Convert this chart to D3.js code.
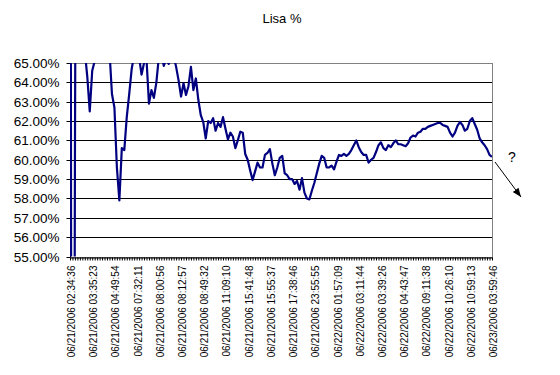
<!DOCTYPE html>
<html><head><meta charset="utf-8">
<script src="https://cdn.jsdelivr.net/npm/d3@7"></script>
<style>body{margin:0;background:#fff}svg{display:block}</style>
</head><body>
<svg id="c" width="560" height="375"></svg>
<script>
const title = "Lisa %";
const tickLabels = [
  "06/21/2006 02:34:36","06/21/2006 03:35:23","06/21/2006 04:49:54","06/21/2006 07:32:11",
  "06/21/2006 08:00:56","06/21/2006 08:12:57","06/21/2006 08:49:32","06/21/2006 11:09:10",
  "06/21/2006 15:41:48","06/21/2006 15:55:37","06/21/2006 17:38:46","06/21/2006 23:55:55",
  "06/22/2006 01:57:09","06/22/2006 03:11:44","06/22/2006 03:39:26","06/22/2006 04:43:47",
  "06/22/2006 09:11:38","06/22/2006 10:26:10","06/22/2006 10:59:13","06/23/2006 03:59:46"
];
const values = [
  100,0,60,100,70,67,65.6,64.3,62.5,64.6,
  65.1,66,66.8,67,67,66.5,65.6,63.4,62.7,59.6,
  57.9,60.6,60.5,62.2,63.4,64.7,65.4,65.8,65.3,64.4,
  65.0,65.2,62.9,63.6,63.2,64.0,65.3,65.5,64.85,65.2,
  64.95,65.3,65.4,64.8,64.1,63.26,63.95,63.35,63.8,64.8,
  63.6,64.2,63.1,62.3,61.95,61.1,62.0,61.9,62.15,61.5,
  61.9,61.7,62.2,61.6,61.05,61.4,61.2,60.6,61.0,61.45,
  61.4,60.3,60.0,59.45,58.95,59.4,59.85,59.6,59.6,60.25,
  60.35,60.55,59.8,59.2,59.6,60.1,60.2,59.3,59.2,59.0,
  59.0,58.75,58.9,58.45,59.05,58.3,58.0,57.95,58.4,58.8,
  59.3,59.8,60.2,60.1,59.6,59.6,59.7,59.5,59.9,60.25,
  60.2,60.3,60.2,60.3,60.5,60.75,61.0,60.65,60.4,60.25,
  60.25,59.85,60.0,60.1,60.4,60.75,60.9,60.6,60.5,60.75,
  60.65,60.85,61.0,60.8,60.8,60.75,60.7,60.85,61.15,61.25,
  61.2,61.4,61.45,61.6,61.6,61.7,61.75,61.8,61.85,61.9,
  61.9,61.8,61.75,61.7,61.4,61.2,61.4,61.75,61.95,61.8,
  61.5,61.6,62.0,62.15,61.85,61.55,61.1,60.9,60.75,60.55,
  60.25,60.15
];
const yTicks = [55,56,57,58,59,60,61,62,63,64,65];
const note = "?";

const svg = d3.select("#c");
const L = 70, R = 492, T = 63, B = 256.5;
const font = "Liberation Sans, Arial, sans-serif";

// title
svg.append("text").attr("x", 282).attr("y", 23).attr("text-anchor", "middle")
  .attr("font-family", font).attr("font-size", 13).text(title);

const idx = d3.range(values.length);
const x = d3.scalePoint().domain(idx).range([L, R]).padding(0);
const y = d3.scaleLinear().domain([55, 65]).range([B, T]);
const labelEvery = (values.length - 1) / (tickLabels.length - 1);
const crisp = v => Math.round(v) + 0.5;

// plot border (gray)
svg.append("rect").attr("x", L + 0.5).attr("y", crisp(y(65))).attr("width", R - L)
  .attr("height", crisp(y(55)) - crisp(y(65))).attr("fill", "none").attr("stroke", "#808080");

// gridlines
svg.append("g").selectAll("line").data(yTicks.filter(v => v > 55 && v < 65)).join("line")
  .attr("x1", L).attr("x2", R).attr("y1", d => crisp(y(d))).attr("y2", d => crisp(y(d)))
  .attr("stroke", "#000").attr("stroke-width", 1);

// y axis
const ya = svg.append("g").attr("transform", `translate(${L + 0.5},0)`)
  .call(d3.axisLeft(y).tickValues(yTicks).tickSize(4).tickPadding(7).tickSizeOuter(0)
    .tickFormat(d => d3.format(".2f")(d) + "%"));
ya.selectAll(".tick").attr("transform", d => `translate(0,${crisp(y(d))})`);
ya.select(".domain").attr("d", `M0,${crisp(y(65))}V${crisp(y(55))}`);
ya.selectAll("text").attr("font-family", font).attr("font-size", 13.5).attr("fill", "#000");
ya.selectAll("line,path").attr("stroke", "#000");

// x axis ticks (every category)
const xt = svg.append("g").attr("transform", `translate(0,${crisp(y(55))})`)
  .call(d3.axisBottom(x).tickValues(idx).tickSize(3).tickSizeOuter(0).tickFormat(""));
xt.selectAll("line,path").attr("stroke", "#000");

// x labels
const xl = svg.append("g").attr("transform", `translate(0,${crisp(y(55))})`)
  .call(d3.axisBottom(x).tickValues(idx.filter(i => i % labelEvery === 0)).tickSize(0)
    .tickFormat(i => tickLabels[i / labelEvery]));
xl.select(".domain").remove();
xl.selectAll("text").attr("font-family", font).attr("font-size", 10).attr("fill", "#000")
  .attr("transform", "rotate(-90)").attr("text-anchor", "end")
  .attr("x", -8).attr("y", 1).attr("dy", "0.35em");

// line (clipped)
svg.append("clipPath").attr("id", "clip").append("rect")
  .attr("x", L).attr("y", T).attr("width", R - L).attr("height", B - T);
svg.append("path").datum(values).attr("clip-path", "url(#clip)")
  .attr("d", d3.line().x((d, i) => x(i)).y(d => y(d)))
  .attr("fill", "none").attr("stroke", "#000080").attr("stroke-width", 2.2)
  .attr("stroke-linejoin", "round");

// annotation
svg.append("text").attr("x", 512).attr("y", 162).attr("text-anchor", "middle")
  .attr("font-family", font).attr("font-size", 14).text(note);
svg.append("defs").append("marker").attr("id", "ah").attr("viewBox", "0 0 10 10")
  .attr("refX", 10).attr("refY", 5).attr("markerWidth", 9).attr("markerHeight", 9)
  .attr("markerUnits", "userSpaceOnUse").attr("orient", "auto")
  .append("path").attr("d", "M0,1L10,5L0,9Z").attr("fill", "#000");
svg.append("line").attr("x1", 495).attr("y1", 162).attr("x2", 521).attr("y2", 197)
  .attr("stroke", "#000").attr("stroke-width", 1).attr("marker-end", "url(#ah)");
</script>
</body></html>
